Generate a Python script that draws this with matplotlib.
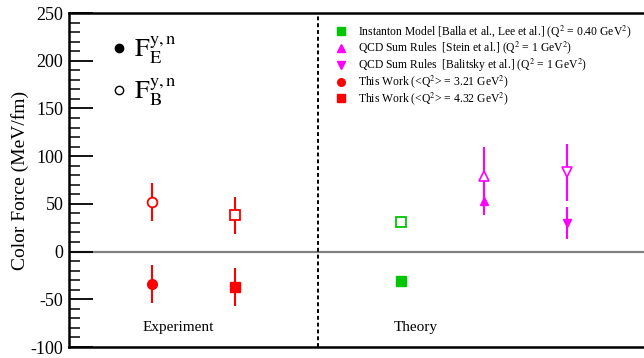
import matplotlib
matplotlib.use("Agg")
import matplotlib.pyplot as plt
from matplotlib.lines import Line2D
from matplotlib.ticker import MultipleLocator

plt.rcParams['font.family'] = ['Liberation Serif', 'DejaVu Serif']
plt.rcParams['mathtext.fontset'] = 'stix'
plt.rcParams['axes.unicode_minus'] = False

# Experiment (x positions 1, 2)
exp_x = [1, 2]
exp_E = [-34, -37]
exp_E_err = [19.5, 20]
exp_B = [52, 38]
exp_B_err = [20, 19.5]

# Theory
inst_x = 4
inst_E, inst_E_err = -31, 0
inst_B, inst_B_err = 30.5, 0
stein_x = 5
stein_E, stein_E_err = 53, 15
stein_B, stein_B_err = 79, 31
bal_x = 6
bal_E, bal_E_err = 30, 17
bal_B, bal_B_err = 83, 30

RED = '#ff0000'
GREEN = '#00c800'
MAG = '#ff00ff'

fig = plt.figure(figsize=(6.44, 3.58), dpi=100)
ax = fig.add_axes([69/644, 11/358, 581/644, 334/358])
ax.set_xlim(0, 7)
ax.set_ylim(-100, 250)

lw = 1.5
ms = 7
# zero line and divider
ax.axhline(0, color='#808080', lw=1.6, zorder=1)
ax.axvline(3, color='black', lw=1.4, ls=(0, (2, 1.5)), zorder=1)

# experiment
ax.errorbar(exp_x[0], exp_E[0], yerr=exp_E_err[0], fmt='o', color=RED, ms=ms, lw=lw, zorder=3)
ax.errorbar(exp_x[1], exp_E[1], yerr=exp_E_err[1], fmt='s', color=RED, ms=ms, lw=lw, zorder=3)
ax.errorbar(exp_x[0], exp_B[0], yerr=exp_B_err[0], fmt='o', color=RED, mfc='white', mew=1.3, ms=ms, lw=lw, zorder=3)
ax.errorbar(exp_x[1], exp_B[1], yerr=exp_B_err[1], fmt='s', color=RED, mfc='white', mew=1.3, ms=ms, lw=lw, zorder=3)

# theory
ax.plot(inst_x, inst_E, 's', color=GREEN, ms=6.5, zorder=3)
ax.plot(inst_x, inst_B, 's', color=GREEN, mfc='white', mew=1.3, ms=6.5, zorder=3)
ax.errorbar(stein_x, stein_E, yerr=stein_E_err, fmt='^', color=MAG, ms=6, lw=lw, zorder=3)
ax.errorbar(stein_x, stein_B, yerr=stein_B_err, fmt='^', color=MAG, mfc='white', mew=1.2, ms=7, lw=lw, zorder=4)
ax.errorbar(bal_x, bal_E, yerr=bal_E_err, fmt='v', color=MAG, ms=6, lw=lw, zorder=3)
ax.errorbar(bal_x, bal_B, yerr=bal_B_err, fmt='v', color=MAG, mfc='white', mew=1.2, ms=7, lw=lw, zorder=4)

ax.text(1.32, -80, 'Experiment', ha='center', va='center', fontsize=11)
ax.text(4.18, -80, 'Theory', ha='center', va='center', fontsize=11)

# axes styling
for s in ['top', 'bottom', 'left']:
    ax.spines[s].set_linewidth(1.8)
ax.spines['right'].set_visible(False)
ax.set_xticks([])
ax.yaxis.set_major_locator(MultipleLocator(50))
ax.yaxis.set_minor_locator(MultipleLocator(10))
ax.tick_params(axis='y', which='major', direction='in', length=17, width=1.3, labelsize=13, pad=4)
ax.tick_params(axis='y', which='minor', direction='in', length=8, width=1.1)
ax.set_ylabel('Color Force (MeV/fm)', fontsize=14, labelpad=1)

# legend 1
h1 = [Line2D([], [], ls='none', marker='o', color='black', ms=6),
      Line2D([], [], ls='none', marker='o', color='black', mfc='white', ms=6)]
l1 = ax.legend(h1, [r'$\mathrm{F}_{\mathrm{E}}^{\mathrm{y,n}}$', r'$\mathrm{F}_{\mathrm{B}}^{\mathrm{y,n}}$'],
               loc='upper left', bbox_to_anchor=(108/644, 1 - 34/358), bbox_transform=fig.transFigure,
               frameon=False, fontsize=19, handlelength=0.8, handletextpad=0.2, labelspacing=0.35,
               borderpad=0, borderaxespad=0)
ax.add_artist(l1)

# legend 2
h2 = [Line2D([], [], ls='none', marker='s', color=GREEN, ms=5.5),
      Line2D([], [], ls='none', marker='^', color=MAG, ms=5.5),
      Line2D([], [], ls='none', marker='v', color=MAG, ms=5.5),
      Line2D([], [], ls='none', marker='o', color=RED, ms=5.5),
      Line2D([], [], ls='none', marker='s', color=RED, ms=5.5)]
labels2 = [r'Instanton Model [Balla et al., Lee et al.] (Q$^2$ = 0.40 GeV$^2$)',
           r'QCD Sum Rules  [Stein et al.] (Q$^2$ = 1 GeV$^2$)',
           r'QCD Sum Rules  [Balitsky et al.] (Q$^2$ = 1 GeV$^2$)',
           r'This Work (<Q$^2$> = 3.21 GeV$^2$)',
           r'This Work (<Q$^2$> = 4.32 GeV$^2$)']
l2 = ax.legend(h2, labels2, loc='upper left', bbox_to_anchor=(333/644, 1 - 23/358),
               bbox_transform=fig.transFigure, frameon=False, fontsize=8.4,
               handlelength=1.3, handletextpad=0.85, labelspacing=0.0, borderpad=0, borderaxespad=0)

fig.savefig('out.png', dpi=100)
